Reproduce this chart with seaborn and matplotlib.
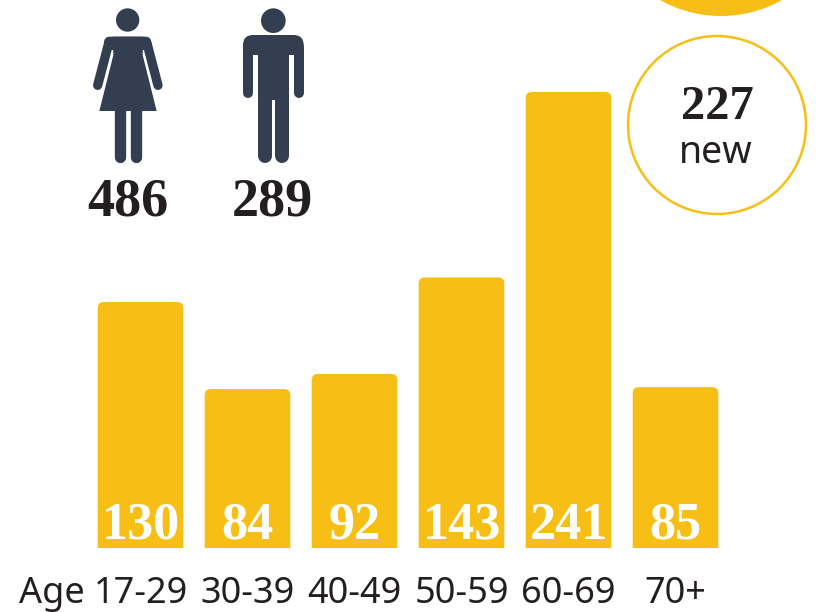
import matplotlib
matplotlib.use('Agg')
import matplotlib.pyplot as plt
from matplotlib.patches import Circle, FancyBboxPatch, Polygon
import seaborn as sns

ages = ['17-29', '30-39', '40-49', '50-59', '60-69', '70+']
counts = [130, 84, 92, 143, 241, 85]
women = 486
men = 289
new_patients = 227

YELLOW = '#F7BF16'
ICON = '#333F50'
INK = '#231F20'
SERIF = 'Liberation Serif'
SANS = 'Noto Sans'
W, H = 821, 612

sns.set_style('white')
plt.rcParams['font.family'] = [SANS, 'DejaVu Sans']

fig = plt.figure(figsize=(W / 100, H / 100), dpi=100)

# page layer in pixel coordinates, for the icons and the circles
page = fig.add_axes([0, 0, 1, 1])
page.set_xlim(0, W)
page.set_ylim(H, 0)
page.axis('off')

# bars
y_top = 548 / 1.892
ax = fig.add_axes([87 / W, (H - 548) / H, 642 / W, 548 / H])
ax.patch.set_alpha(0)
sns.barplot(x=ages, y=counts, color=YELLOW, saturation=1, width=0.8, ax=ax)
ax.set_xlim(-0.5, 5.5)
ax.set_ylim(0, y_top)
ax.set_yticks([])
ax.set_xlabel('')
ax.set_ylabel('')
sns.despine(ax=ax, left=True, bottom=True)
ax.tick_params(axis='x', length=0, pad=20, labelsize=26, labelcolor=INK)

# swap the bars for ones with rounded tops, the bottom corners get clipped
aspect = 107 / 1.892
for bar in list(ax.patches):
    x, w, h = bar.get_x(), bar.get_width(), bar.get_height()
    bar.remove()
    ax.add_patch(FancyBboxPatch((x, -10), w, h + 10,
                                boxstyle='round,pad=0,rounding_size=0.056',
                                mutation_aspect=aspect, fc=YELLOW, ec='none'))

for i, v in enumerate(counts):
    ax.annotate(str(v), xy=(i, 0), xytext=(0, 6.5), textcoords='offset points',
                ha='center', va='baseline', color='white', family=SERIF,
                weight='bold', fontsize=37.5)

page.text(19, 603, 'Age', color=INK, fontsize=26, va='baseline')


def zx(x):
    return x / 3 + 60


def zy(y):
    return y / 3


def limb(x0, y0, x1, y1, width):
    page.plot([zx(x0), zx(x1)], [zy(y0), zy(y1)], color=ICON,
              lw=width / 3 * 0.72, solid_capstyle='round')


# woman
page.add_patch(Circle((zx(203), zy(60)), 35 / 3, fc=ICON, ec='none'))
dress = [(158, 110), (250, 110), (248, 165), (290, 333), (118, 333), (160, 165)]
page.add_patch(Polygon([(zx(a), zy(b)) for a, b in dress], fc=ICON, ec='none'))
page.add_patch(FancyBboxPatch((zx(132), zy(110)), 142 / 3, 40 / 3,
                              boxstyle='round,pad=0,rounding_size=6',
                              fc=ICON, ec='none'))
limb(146, 130, 113, 256, 28)
limb(261, 130, 294, 256, 28)
limb(181, 325, 181, 471, 34)
limb(229, 325, 229, 471, 34)

# man
page.add_patch(Circle((zx(640), zy(62)), 37 / 3, fc=ICON, ec='none'))
page.add_patch(FancyBboxPatch((zx(549), zy(105)), 182 / 3, 60 / 3,
                              boxstyle='round,pad=0,rounding_size=10',
                              fc=ICON, ec='none'))
page.add_patch(Polygon([(zx(594), zy(130)), (zx(686), zy(130)),
                        (zx(686), zy(300)), (zx(594), zy(300))],
                       fc=ICON, ec='none'))
limb(564, 140, 564, 278, 30)
limb(716, 140, 716, 278, 30)
limb(614, 290, 614, 468, 42)
limb(666, 290, 666, 468, 42)

page.text(127.5, 216, str(women), color=INK, family=SERIF, weight='bold',
          fontsize=39, ha='center', va='baseline')
page.text(272.5, 216, str(men), color=INK, family=SERIF, weight='bold',
          fontsize=39, ha='center', va='baseline')

# circles at top right
page.add_patch(Circle((721, -109), 125, fc=YELLOW, ec='none'))
page.add_patch(Circle((717, 125), 89, fc='white', ec=YELLOW, lw=1.8))
page.text(717, 119, str(new_patients), color=INK, family=SERIF, weight='bold',
          fontsize=35, ha='center', va='baseline')
page.text(716, 163, 'new', color=INK, fontsize=27, ha='center', va='baseline')

fig.savefig('out.png', dpi=100)
